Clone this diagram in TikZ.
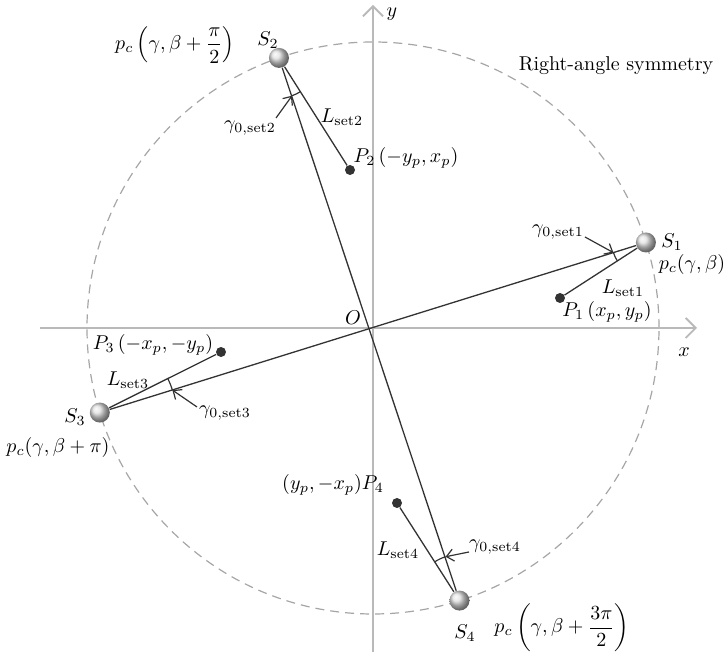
\documentclass[tikz,border=0pt]{standalone}
\usepackage{amsmath}
\usetikzlibrary{positioning,arrows.meta,calc,angles}

\begin{document}
\begin{tikzpicture}[x=0.5pt,y=0.5pt,
  axis/.style={draw=gray!55,line width=0.9pt,-{Straight Barb[length=5pt,width=10pt]}},
  ray/.style={draw=black!80,line width=0.65pt},
  source/.style={circle,shade,ball color=gray!25,minimum size=10pt,inner sep=0pt},
  probe/.style={circle,fill=black!80,minimum size=5pt,inner sep=0pt},
  pointer/.style={draw=black!80,line width=0.6pt,-{Straight Barb[length=3.5pt,width=6pt]}},
  gap/.style={draw=black!80,line width=0.6pt}]
  \useasboundingbox (0,0) rectangle (725,658);

  % centre, trajectory and axes
  \coordinate (O) at (373,330);
  \draw[gray!70,line width=0.6pt,dash pattern=on 4.5pt off 3pt] (O) circle (286);
  \coordinate (xl) at (40,330);
  \coordinate (xr) at (697,330);
  \coordinate (yb) at (373,6);
  \coordinate (yt) at (373,653);
  \draw[axis] (xl) -- (xr);
  \draw[axis] (yb) -- (yt);
  \node at (684,306) {$x$};
  \node at (392,644) {$y$};
  \node at (353,340) {$O$};
  \node at (616,592) {Right-angle symmetry};

  % sources and points
  \node[source] (S1) at ($(O)+(17.4:286)$) {};
  \node[source] (S2) at ($(O)+(109.2:286)$) {};
  \node[source] (S3) at ($(O)+(197.2:286)$) {};
  \node[source] (S4) at ($(O)+(287.6:286)$) {};
  \node[probe] (P1) at (560,360) {};
  \node[probe] (P2) at (350,488) {};
  \node[probe] (P3) at (221,306) {};
  \node[probe] (P4) at (397,155) {};

  \draw[ray] (S1) -- (S3);
  \draw[ray] (S2) -- (S4);
  \draw[ray] (S1) -- (P1);
  \draw[ray] (S2) -- (P2);
  \draw[ray] (S3) -- (P3);
  \draw[ray] (S4) -- (P4);

  % fan angles
  \pic[gap,angle radius=17pt] {angle=O--S1--P1};
  \pic[gap,angle radius=20pt] {angle=O--S2--P2};
  \pic[gap,angle radius=38pt] {angle=O--S3--P3};
  \pic[gap,angle radius=23pt] {angle=O--S4--P4};

  % labels
  \node (s1) at (672,416) {$S_1$};
  \node (s2) at (268,618) {$S_2$};
  \node (s3) at (75,241) {$S_3$};
  \node (s4) at (465,25) {$S_4$};
  \node (c1) at (692,393) {$p_c(\gamma,\beta)$};
  \node (c2) at (175,613) {$p_c\left(\gamma,\beta+\dfrac{\pi}{2}\right)$};
  \node (c3) at (58,210) {$p_c(\gamma,\beta+\pi)$};
  \node (c4) at (562,30) {$p_c\left(\gamma,\beta+\dfrac{3\pi}{2}\right)$};
  \node (p1) at (607,346) {$P_1\,(x_p,y_p)$};
  \node (p2) at (406,500) {$P_2\,(-y_p,x_p)$};
  \node (p3) at (153,313) {$P_3\,(-x_p,-y_p)$};
  \node (p4) at (333,173) {$(y_p,-x_p)P_4$};
  \node (l1) at (623,370) {$L_{\mathrm{set1}}$};
  \node (l2) at (342,541) {$L_{\mathrm{set2}}$};
  \node (l3) at (128,278) {$L_{\mathrm{set3}}$};
  \node (l4) at (398,108) {$L_{\mathrm{set4}}$};
  \node (g1) at (558,426) {$\gamma_{0,\mathrm{set1}}$};
  \node (g2) at (250,530) {$\gamma_{0,\mathrm{set2}}$};
  \node (g3) at (225,245) {$\gamma_{0,\mathrm{set3}}$};
  \node (g4) at (495,111) {$\gamma_{0,\mathrm{set4}}$};

  % angle pointers
  \coordinate (a1) at (585,421);
  \coordinate (a2) at (276,540);
  \coordinate (a3) at (197,251);
  \coordinate (a4) at (469,106);
  \draw[pointer] (a1) -- ($(S1)!17pt!(O)$);
  \draw[pointer] (a2) -- ($(S2)!20pt!(O)$);
  \draw[pointer] (a3) -- ($(S3)!38pt!(O)$);
  \draw[pointer] (a4) -- ($(S4)!23pt!(O)$);
\end{tikzpicture}
\end{document}
